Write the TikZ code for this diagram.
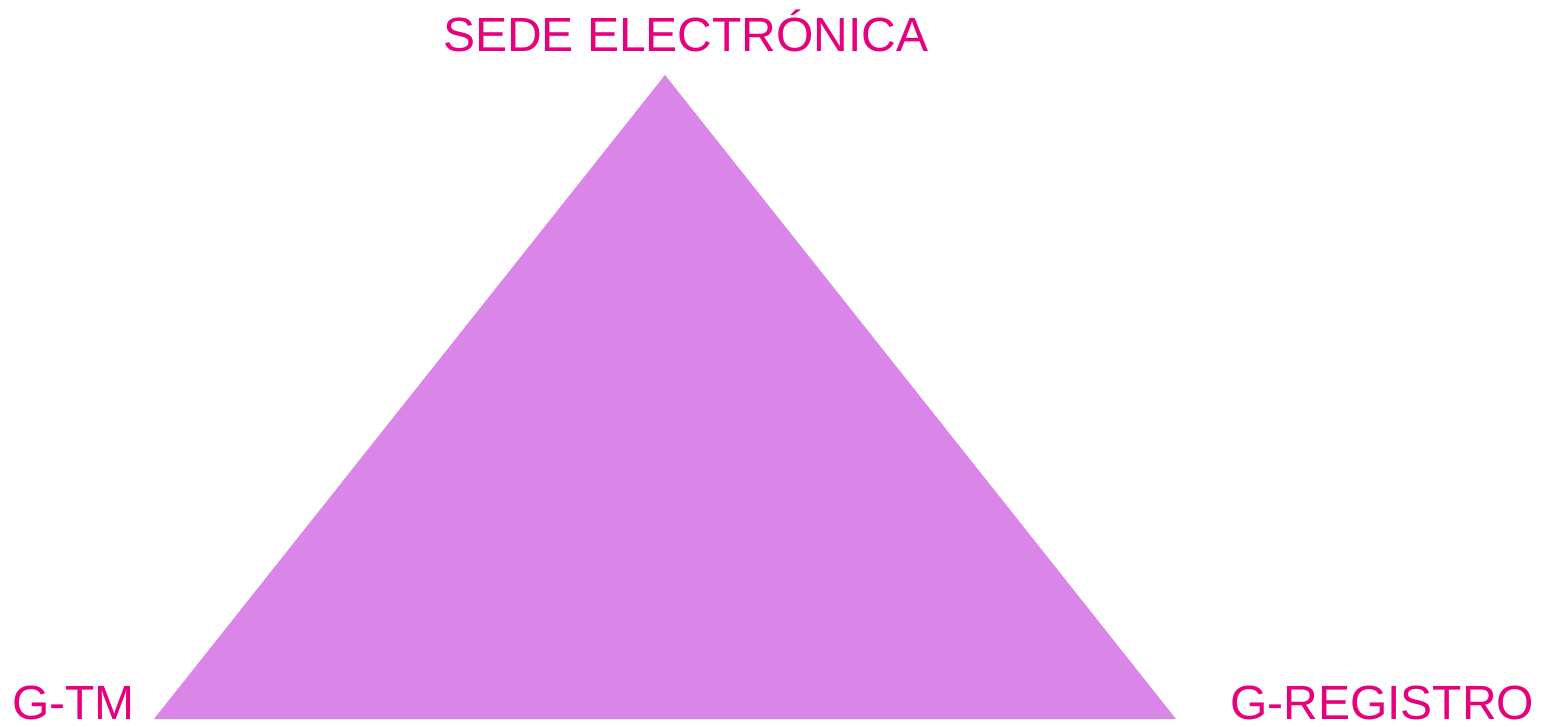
\documentclass[tikz,border=0pt]{standalone}
\usepackage{fontspec}
\setmainfont{Liberation Sans}
\definecolor{tri}{RGB}{218,134,232}
\definecolor{lbl}{RGB}{230,0,126}
\begin{document}
\begin{tikzpicture}[x=1pt,y=-1pt,
  lab/.style={text=lbl,font=\fontsize{48}{48}\selectfont,inner sep=0pt,anchor=base west}]
\useasboundingbox (0,0) rectangle (1551,727);
\coordinate (apex) at (665,75);
\coordinate (bl) at (154,719);
\coordinate (br) at (1176,719);
\fill[tri] (apex) -- (bl) -- (br) -- cycle;
\node[lab] (sede) at (443,52) {SEDE ELECTRÓNICA};
\node[lab] (gtm) at (12,719) {G-TM};
\node[lab] (greg) at (1230,719) {G-REGISTRO};
\end{tikzpicture}
\end{document}
